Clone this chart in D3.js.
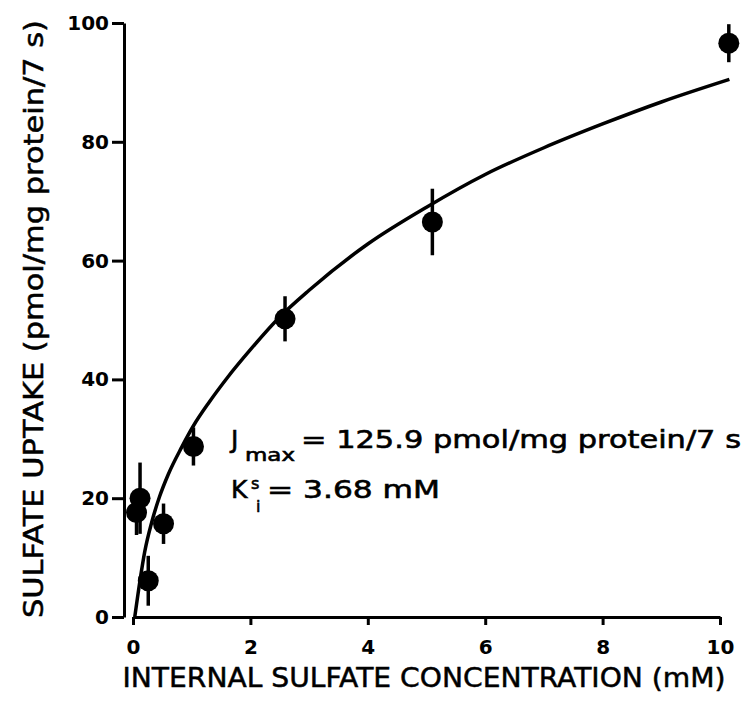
<!DOCTYPE html>
<html>
<head>
<meta charset="utf-8">
<script src="https://cdn.jsdelivr.net/npm/d3@7"></script>
<style>
  html, body { margin: 0; padding: 0; background: #fff; }
  svg { display: block; }
</style>
</head>
<body>
<svg id="chart" width="753" height="702"></svg>
<script>
// measured points: internal sulfate (mM) vs uptake (pmol/mg protein/7 s)
const concentration = [0.06, 0.12, 0.26, 0.52, 1.03, 2.59, 5.1, 10.15];
const uptake = [17.6, 20.0, 6.1, 15.7, 28.7, 50.2, 66.5, 96.6];
const uptakeErr = [3.8, 6.0, 4.2, 3.4, 3.2, 3.8, 5.6, 3.2];

// fitted curve
const fitX = [0.03, 0.12, 0.2, 0.32, 0.45, 0.6, 0.83, 1.03, 1.3, 1.6, 2.0, 2.5, 3.0, 4.0, 5.0, 6.0, 7.0, 8.0, 9.0, 10.16];
const fitY = [0, 6.2, 11.0, 16.0, 20.2, 24.0, 28.6, 32.2, 36.2, 40.2, 45.0, 50.5, 55.0, 62.8, 69.0, 74.5, 79.0, 83.0, 86.7, 90.5];

const xTicks = [0, 2, 4, 6, 8, 10];
const yTicks = [0, 20, 40, 60, 80, 100];

const xTitle = "INTERNAL SULFATE CONCENTRATION (mM)";
const yTitle = "SULFATE UPTAKE (pmol/mg protein/7 s)";

const svg = d3.select("#chart");
const font = "'DejaVu Sans', sans-serif";

const x = d3.scaleLinear().domain([0, 10]).range([133, 720]);
const y = d3.scaleLinear().domain([0, 100]).range([617, 23]);

// AXES
const gx = svg.append("g")
  .attr("transform", "translate(0,617)")
  .call(d3.axisBottom(x).tickValues(xTicks).tickSize(8).tickPadding(15).tickSizeOuter(0).tickFormat(d3.format("d")));

const gy = svg.append("g")
  .attr("transform", "translate(124,0)")
  .call(d3.axisLeft(y).tickValues(yTicks).tickSize(12).tickPadding(3).tickSizeOuter(0).tickFormat(d3.format("d")));

[gx, gy].forEach(g => {
  g.select(".domain").attr("stroke", "#000").attr("stroke-width", 3);
  g.selectAll(".tick line").attr("stroke", "#000").attr("stroke-width", 3);
  g.selectAll(".tick text")
    .attr("fill", "#000")
    .attr("font-family", font)
    .attr("font-weight", "bold")
    .attr("font-size", 20);
});

// AXIS TITLES
svg.append("text")
  .attr("x", 424)
  .attr("y", 687)
  .attr("text-anchor", "middle")
  .attr("font-family", font)
  .attr("font-size", 27)
  .attr("stroke", "#000")
  .attr("stroke-width", 0.5)
  .attr("textLength", 603)
  .attr("lengthAdjust", "spacingAndGlyphs")
  .text(xTitle);

svg.append("text")
  .attr("transform", "translate(43,319) rotate(-90)")
  .attr("text-anchor", "middle")
  .attr("font-family", font)
  .attr("font-size", 27)
  .attr("stroke", "#000")
  .attr("stroke-width", 0.5)
  .attr("textLength", 598)
  .attr("lengthAdjust", "spacingAndGlyphs")
  .text(yTitle);

// FIT CURVE
const fit = fitX.map((v, i) => [v, fitY[i]]);
svg.append("path")
  .datum(fit)
  .attr("fill", "none")
  .attr("stroke", "#000")
  .attr("stroke-width", 3.5)
  .attr("d", d3.line().x(d => x(d[0])).y(d => y(d[1])).curve(d3.curveMonotoneX));

// POINTS WITH ERROR BARS
const pts = concentration.map((c, i) => ({ c, v: uptake[i], e: uptakeErr[i] }));

svg.selectAll("line.err")
  .data(pts)
  .enter()
  .append("line")
  .attr("class", "err")
  .attr("x1", d => x(d.c))
  .attr("x2", d => x(d.c))
  .attr("y1", d => y(d.v - d.e))
  .attr("y2", d => y(d.v + d.e))
  .attr("stroke", "#000")
  .attr("stroke-width", 3.5);

svg.selectAll("circle.pt")
  .data(pts)
  .enter()
  .append("circle")
  .attr("class", "pt")
  .attr("cx", d => x(d.c))
  .attr("cy", d => y(d.v))
  .attr("r", 10.5)
  .attr("fill", "#000");

// PARAMETER LABELS
const ann = svg.append("g")
  .attr("font-family", font)
  .attr("fill", "#000")
  .attr("stroke", "#000")
  .attr("stroke-width", 0.6);

ann.append("text").attr("x", 231).attr("y", 448).attr("font-size", 25).text("J");
ann.append("text").attr("x", 245).attr("y", 461).attr("font-size", 17)
  .attr("textLength", 50).attr("lengthAdjust", "spacingAndGlyphs").text("max");
ann.append("text").attr("x", 301).attr("y", 448).attr("font-size", 25)
  .attr("textLength", 440).attr("lengthAdjust", "spacingAndGlyphs")
  .text("= 125.9 pmol/mg protein/7 s");

ann.append("text").attr("x", 231).attr("y", 498).attr("font-size", 25).text("K");
ann.append("text").attr("x", 251).attr("y", 489).attr("font-size", 16).text("s");
ann.append("text").attr("x", 256).attr("y", 512).attr("font-size", 16).text("i");
ann.append("text").attr("x", 267).attr("y", 498).attr("font-size", 25)
  .attr("textLength", 173).attr("lengthAdjust", "spacingAndGlyphs")
  .text("= 3.68 mM");
</script>
</body>
</html>
